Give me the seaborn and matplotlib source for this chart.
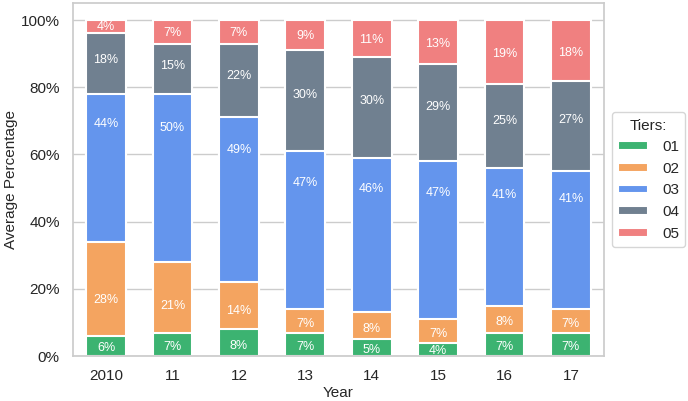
import numpy as np
import pandas as pd
import matplotlib
matplotlib.use("Agg")
import matplotlib.pyplot as plt
from matplotlib.ticker import PercentFormatter
import seaborn as sns

years = ["2010", "11", "12", "13", "14", "15", "16", "17"]
tiers = ["01", "02", "03", "04", "05"]
tier01 = [6, 7, 8, 7, 5, 4, 7, 7]
tier02 = [28, 21, 14, 7, 8, 7, 8, 7]
tier03 = [44, 50, 49, 47, 46, 47, 41, 41]
tier04 = [18, 15, 22, 30, 30, 29, 25, 27]
tier05 = [4, 7, 7, 9, 11, 13, 19, 18]

colors = ["#3CB371", "#F4A460", "#6495ED", "#708090", "#F08080"]
# where inside each segment the label sits (fraction of segment height from bottom)
label_frac = [0.38, 0.38, 0.80, 0.56, 0.46]

sns.set_theme(style="whitegrid")
plt.rcParams["font.family"] = ["Liberation Sans", "DejaVu Sans"]

df = pd.DataFrame({"Year": years, "01": tier01, "02": tier02, "03": tier03,
                   "04": tier04, "05": tier05})
cum = df[tiers].cumsum(axis=1)

fig, ax = plt.subplots(figsize=(6.88, 4.01), dpi=100)
fig.subplots_adjust(left=0.106, right=0.878, top=0.992, bottom=0.112)

for i in reversed(range(len(tiers))):
    t = tiers[i]
    sns.barplot(x=df["Year"], y=cum[t], color=colors[i], width=0.6,
                edgecolor="white", linewidth=1.5, saturation=1,
                label=t, ax=ax, zorder=2)

for i, t in enumerate(tiers):
    bottoms = cum[t] - df[t]
    for j, (b, v) in enumerate(zip(bottoms, df[t])):
        ax.text(j, b + v * label_frac[i], f"{v}%", ha="center", va="center",
                color="white", fontsize=9, zorder=3)

ax.yaxis.set_major_formatter(PercentFormatter(100, decimals=0))
ax.set_xlabel("Year", fontsize=11, labelpad=2)
ax.set_ylabel("Average Percentage", fontsize=11, labelpad=2)
ax.tick_params(axis="both", labelsize=11)
for s in ax.spines.values():
    s.set_color("#cccccc")
ax.set_axisbelow(True)

handles, labels = ax.get_legend_handles_labels()
order = [labels.index(t) for t in tiers]
ax.legend([handles[k] for k in order], tiers, title="Tiers:", loc="center left",
          bbox_to_anchor=(1.0, 0.5), borderaxespad=0.5, fontsize=11,
          title_fontsize=11, handleheight=0.5, handletextpad=0.9, frameon=True)

fig.savefig("out.png", dpi=100)
